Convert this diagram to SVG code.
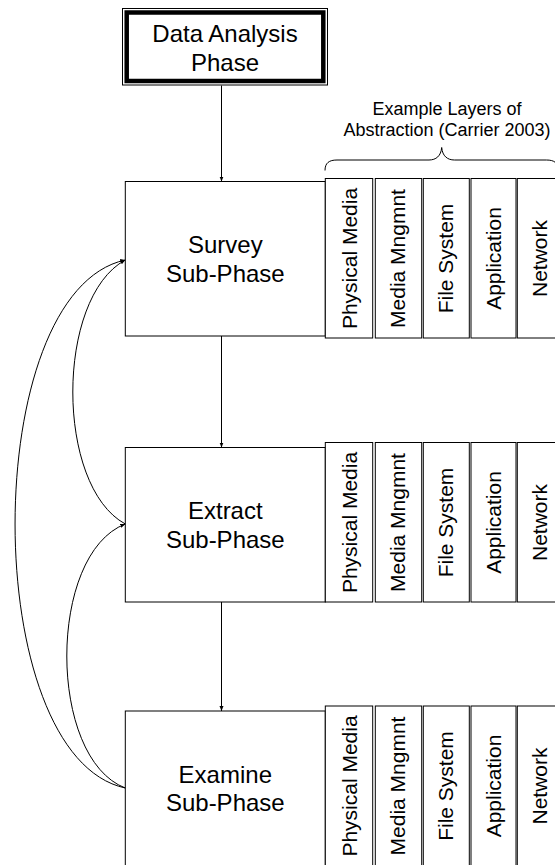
<svg xmlns="http://www.w3.org/2000/svg" width="555" height="865" viewBox="0 0 555 865">
<style>
  .box { fill: #fff; stroke: #000; stroke-width: 1; }
  .col { fill: #fff; stroke: #000; stroke-width: 1; }
  .t { font-family: "Liberation Sans", Arial, sans-serif; fill: #000; }
  .big { font-size: 24px; text-anchor: middle; }
  .lay { font-size: 21px; text-anchor: middle; }
  .note { font-size: 18px; text-anchor: middle; }
  .con { fill: none; stroke: #000; stroke-width: 1; }
</style>
<defs>
  <marker id="ah" markerUnits="userSpaceOnUse" markerWidth="6" markerHeight="6" refX="5" refY="2" orient="auto">
    <path d="M0,0 L5,2 L0,4 z" fill="#000"/>
  </marker>
  <g id="layers">
    <rect class="col" x="325.3" y="0" width="47.4" height="159.5"/>
    <rect class="col" x="375.3" y="0" width="46.4" height="159.5"/>
    <rect class="col" x="423.3" y="0" width="46" height="159.5"/>
    <rect class="col" x="471" y="0" width="45" height="159.5"/>
    <rect class="col" x="517.3" y="0" width="45" height="159.5"/>
    <text class="t lay" transform="translate(356.5,80) rotate(-90)">Physical Media</text>
    <text class="t lay" transform="translate(405,80) rotate(-90)">Media Mngmnt</text>
    <text class="t lay" transform="translate(452.5,80) rotate(-90)">File System</text>
    <text class="t lay" transform="translate(500.5,80) rotate(-90)">Application</text>
    <text class="t lay" transform="translate(546.5,80) rotate(-90)">Network</text>
  </g>
</defs>

<g id="connectors">
  <line class="con" x1="221.5" y1="85.5" x2="221.5" y2="181.5" marker-end="url(#ah)"/>
  <line class="con" x1="221.5" y1="336" x2="221.5" y2="447.5" marker-end="url(#ah)"/>
  <line class="con" x1="221.5" y1="602" x2="221.5" y2="711" marker-end="url(#ah)"/>
  <path class="con" d="M125.3,524 C55.3,486 55.3,298 125.3,260" marker-end="url(#ah)"/>
  <path class="con" d="M125.3,788 C-21.7,756.4 -21.7,291.6 125.3,260" marker-end="url(#ah)"/>
  <path class="con" d="M125.3,788 C47.3,758 47.3,554 125.3,524" marker-end="url(#ah)"/>
</g>

<g id="data-analysis">
  <rect x="122.5" y="8.5" width="205" height="76.5" fill="#fff" stroke="#000" stroke-width="1"/>
  <rect x="126.7" y="12.5" width="196.6" height="68.5" fill="none" stroke="#000" stroke-width="4.5"/>
  <text class="t big" x="225" y="41.7">Data Analysis</text>
  <text class="t big" x="225" y="70.7">Phase</text>
</g>

<g id="abstraction-label">
  <text class="t note" x="447" y="114.5">Example Layers of</text>
  <text class="t note" x="447" y="135.5">Abstraction (Carrier 2003)</text>
  <path class="con" d="M325,170.5 C325,163 329,160 337,160 L429,160 C436,160 441,156 441.7,147.5 C442.4,156 447.4,160 454.4,160 L546.4,160 C554.4,160 558.4,163 558.4,170.5"/>
</g>

<g id="survey">
  <rect class="box" x="125.3" y="181.5" width="200" height="154.5"/>
  <text class="t big" x="225.3" y="253.2">Survey</text>
  <text class="t big" x="225.3" y="281.9">Sub-Phase</text>
</g>
<g id="survey-layers">
  <use href="#layers" transform="translate(0,178.5)"/>
</g>

<g id="extract">
  <rect class="box" x="125.3" y="447.5" width="200" height="154.5"/>
  <text class="t big" x="225.3" y="519">Extract</text>
  <text class="t big" x="225.3" y="547.7">Sub-Phase</text>
</g>
<g id="extract-layers">
  <use href="#layers" transform="translate(0,442.5)"/>
</g>

<g id="examine">
  <rect class="box" x="125.3" y="711" width="200" height="160"/>
  <text class="t big" x="225.3" y="783.3">Examine</text>
  <text class="t big" x="225.3" y="811">Sub-Phase</text>
</g>
<g id="examine-layers">
  <use href="#layers" transform="translate(0,706)"/>
</g>
</svg>
